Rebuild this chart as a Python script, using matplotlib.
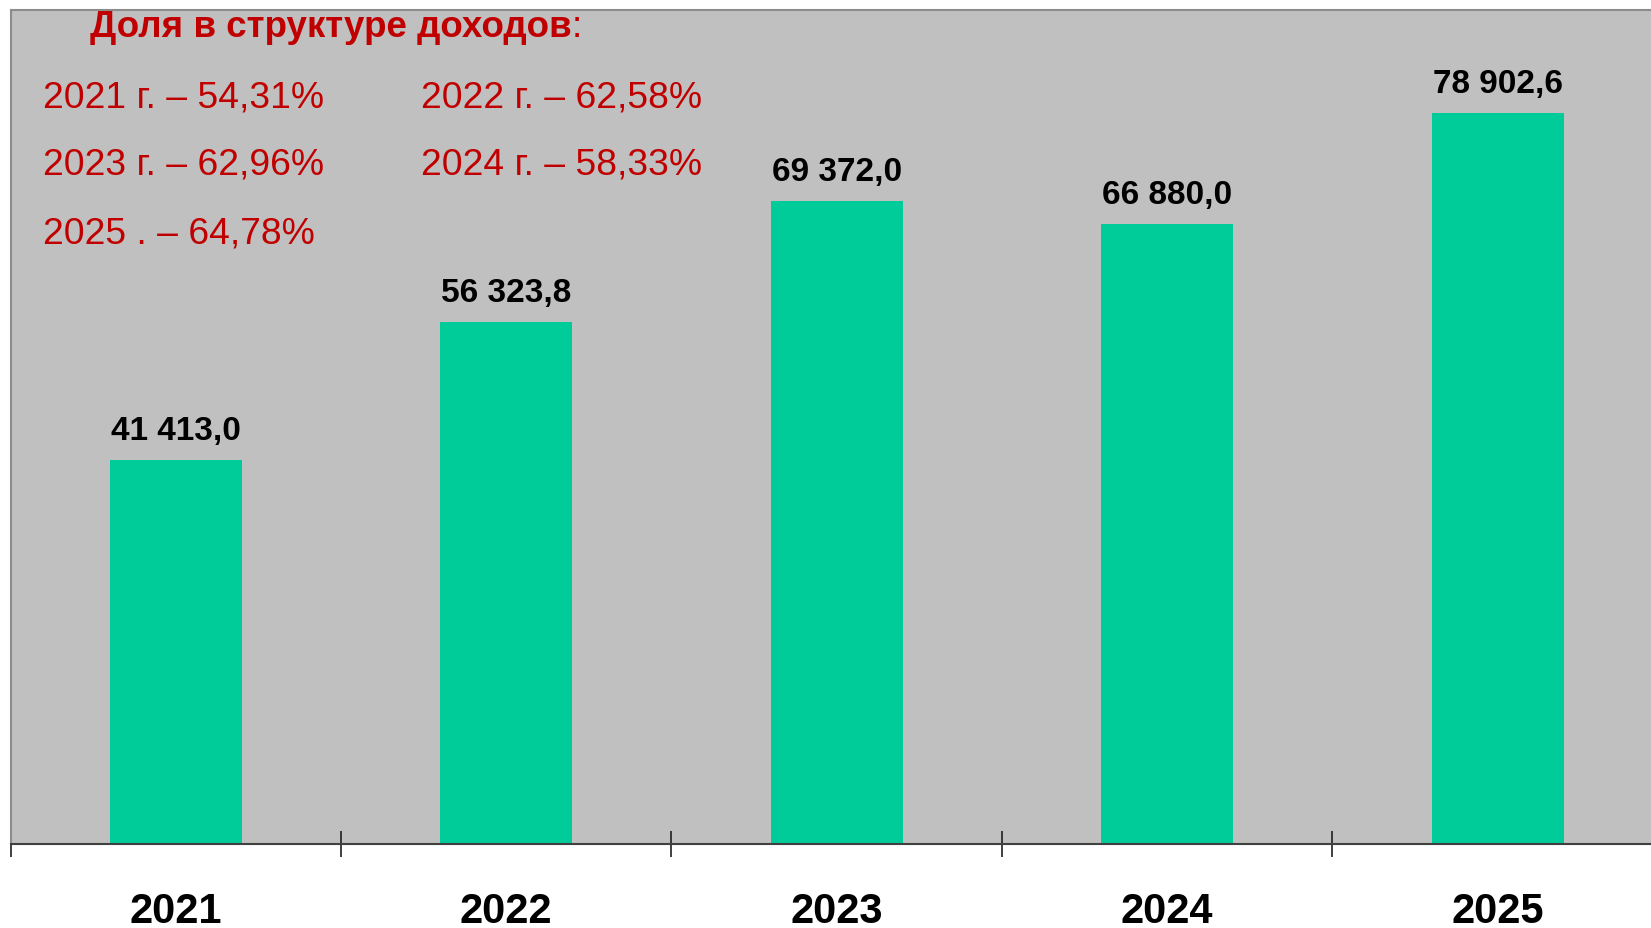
import numpy as np
import matplotlib.pyplot as plt
from matplotlib.ticker import FixedLocator

plt.rcParams['font.family'] = ['Liberation Sans', 'DejaVu Sans']

# данные
years = ['2021', '2022', '2023', '2024', '2025']
values = [41413.0, 56323.8, 69372.0, 66880.0, 78902.6]
shares = ['2021 г. – 54,31%', '2022 г. – 62,58%',
          '2023 г. – 62,96%', '2024 г. – 58,33%',
          '2025 . – 64,78%']

W, H = 1651, 929
fig = plt.figure(figsize=(W / 100, H / 100), dpi=100)
fig.patch.set_facecolor('white')
ax = fig.add_axes([10.5 / W, 84.5 / H, 1 - 10.5 / W, (844.5 - 11) / H])
ax.set_facecolor('#C0C0C0')

x = np.arange(len(years))
bars = ax.bar(x, values, width=0.4, color='#00CC99', zorder=2)
ax.set_xlim(-0.5, 4.464)
ax.set_ylim(0, 90000)

def fmt(v):
    return f'{v:,.1f}'.replace(',', ' ').replace('.', ',')

for b, v in zip(bars, values):
    ax.annotate(fmt(v), (b.get_x() + b.get_width() / 2, v), xytext=(0, 15),
                textcoords='offset points', ha='center', va='baseline',
                fontsize=24, fontweight='bold', color='black')

ax.set_yticks([])
ax.set_xticks(x)
ax.set_xticklabels(years, fontsize=30, fontweight='bold')
ax.tick_params(axis='x', which='major', length=0, pad=34)
ax.xaxis.set_minor_locator(FixedLocator(np.arange(-0.5, 4.0, 1.0)))
ax.tick_params(axis='x', which='minor', direction='inout', length=19, width=1.2, color='#202020')

ax.spines['right'].set_visible(False)
ax.spines['top'].set_color('#8C8C8C')
ax.spines['left'].set_color('#8C8C8C')
ax.spines['top'].set_linewidth(1.5)
ax.spines['left'].set_linewidth(1.5)
ax.spines['bottom'].set_color('#404040')
ax.spines['bottom'].set_linewidth(1.5)

red = '#C00000'
t = fig.text(90 / W, 1 - 37 / H, 'Доля в структуре доходов', fontsize=26.5,
             fontweight='bold', color=red, va='baseline')
ax.annotate(':', xy=(1, 0), xycoords=t, fontsize=26.5, color=red, va='bottom',
            ha='left', annotation_clip=False)

col_x = [43, 421]
row_y = [108, 175, 243]
for i, s in enumerate(shares):
    fig.text(col_x[i % 2] / W, 1 - row_y[i // 2] / H, s, fontsize=26.8,
             color=red, va='baseline')

fig.savefig('out.png', dpi=100)
